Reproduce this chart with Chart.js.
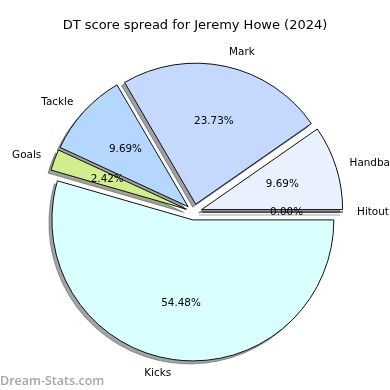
<!DOCTYPE html>
<html>
<head>
<meta charset="utf-8">
<script src="https://cdn.jsdelivr.net/npm/chart.js@4.4.1/dist/chart.umd.min.js"></script>
<style>
  html, body { margin: 0; padding: 0; background: #fff; }
</style>
</head>
<body>
<canvas id="spread" width="390" height="390"></canvas>
<script>
// slices in drawing order (clockwise from 3 o'clock)
const categories = ['Kicks', 'Goals', 'Tackle', 'Mark', 'Handball', 'Hitout'];
const shares = [54.48, 2.42, 9.69, 23.73, 9.69, 0.00];
const colours = ['#d9ffff', '#d1ed8d', '#b5d7fe', '#c5d9fe', '#e9f1fe', '#f4f8ff'];

const title = 'DT score spread for Jeremy Howe (2024)';
const explode = 8;
const font = '10.4px "DejaVu Sans"';

function shadowOf(hex) {
    let r = parseInt(hex.substr(1, 2), 16) * 0.3;
    let g = parseInt(hex.substr(3, 2), 16) * 0.3;
    let b = parseInt(hex.substr(5, 2), 16) * 0.3;
    return 'rgba(' + r + ',' + g + ',' + b + ',0.5)';
}

const pieExtras = {
    id: 'pieExtras',
    afterDatasetUpdate(chart, args) {
        // push every wedge out along its middle angle, like matplotlib's explode
        args.meta.data.forEach(function(arc) {
            let mid = (arc.startAngle + arc.endAngle) / 2;
            arc.x += Math.cos(mid) * explode;
            arc.y += Math.sin(mid) * explode;
        });
    },
    beforeDatasetsDraw(chart) {
        const ctx = chart.ctx;
        const arcs = chart.getDatasetMeta(0).data;
        arcs.forEach(function(arc, i) {
            let col = shadowOf(colours[i]);
            let orig = arc.options;
            arc.options = Object.assign({}, orig, {backgroundColor: col, borderColor: col});
            ctx.save();
            ctx.translate(-3, 3);
            arc.draw(ctx);
            if (arc.endAngle - arc.startAngle === 0) {
                ctx.strokeStyle = col;
                ctx.lineWidth = 1;
                ctx.beginPath();
                ctx.moveTo(arc.x, arc.y);
                ctx.lineTo(arc.x + Math.cos(arc.startAngle) * arc.outerRadius, arc.y + Math.sin(arc.startAngle) * arc.outerRadius);
                ctx.stroke();
            }
            ctx.restore();
            arc.options = orig;
        });
    },
    afterDatasetsDraw(chart) {
        const ctx = chart.ctx;
        const arcs = chart.getDatasetMeta(0).data;
        ctx.save();
        ctx.fillStyle = '#000';
        ctx.font = font;
        ctx.textBaseline = 'middle';
        arcs.forEach(function(arc, i) {
            let mid = (arc.startAngle + arc.endAngle) / 2;
            let r = arc.outerRadius;
            if (arc.endAngle - arc.startAngle === 0) {
                ctx.strokeStyle = '#111';
                ctx.lineWidth = 1;
                ctx.beginPath();
                ctx.moveTo(arc.x, arc.y);
                ctx.lineTo(arc.x + Math.cos(mid) * r, arc.y + Math.sin(mid) * r);
                ctx.stroke();
            }
            // percentage inside
            ctx.textAlign = 'center';
            ctx.fillText(shares[i].toFixed(2) + '%', arc.x + Math.cos(mid) * r * 0.6, arc.y + Math.sin(mid) * r * 0.6);
            // category outside
            let lx = arc.x + Math.cos(mid) * r * 1.1;
            ctx.textAlign = Math.cos(mid) >= 0 ? 'left' : 'right';
            ctx.fillText(categories[i], lx, arc.y + Math.sin(mid) * r * 1.1);
        });

        ctx.textAlign = 'center';
        ctx.font = '13px "DejaVu Sans"';
        ctx.fillText(title, 195, 26);

        ctx.textAlign = 'left';
        ctx.textBaseline = 'alphabetic';
        ctx.font = '600 12.5px "Open Sans"';
        ctx.fillStyle = '#a6a6a6';
        ctx.fillText('Dream-Stats.com', 0, 385);
        ctx.restore();
    }
};

new Chart(document.getElementById('spread'), {
    type: 'pie',
    data: {
        labels: categories,
        datasets: [{
            data: shares,
            backgroundColor: colours,
            borderColor: '#111',
            borderWidth: 1,
            borderJoinStyle: 'miter'
        }]
    },
    options: {
        responsive: false,
        devicePixelRatio: 1,
        animation: false,
        rotation: 90,
        radius: 141,
        layout: {
            padding: {left: 32, right: 34, top: 52, bottom: 18}
        },
        plugins: {
            legend: false,
            tooltip: {enabled: false}
        },
        events: []
    },
    plugins: [pieExtras]
});
</script>
</body>
</html>
